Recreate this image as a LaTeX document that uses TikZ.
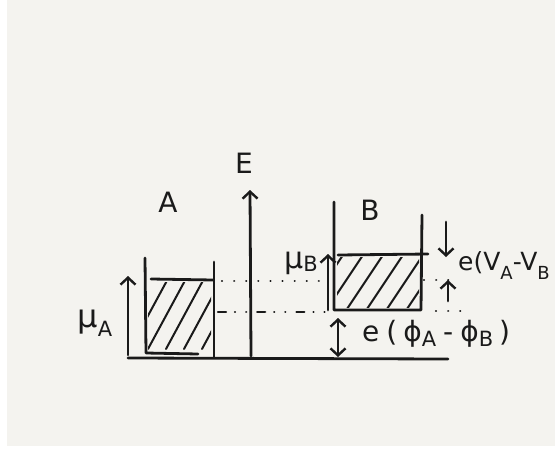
\documentclass[tikz,border=0pt]{standalone}
\usepackage{fontspec}
\setmainfont{DejaVu Sans}
\usetikzlibrary{arrows.meta}
\definecolor{paper}{HTML}{F4F3EF}
\definecolor{ink}{HTML}{1A1A1A}
\tikzset{
  stroke/.style={draw=ink, line width=2.8pt, line cap=round, line join=round},
  hatch/.style={draw=ink, line width=2pt, line cap=round},
  dots/.style={draw=ink, line width=2.2pt, line cap=round, dash pattern=on 0.1pt off 12pt},
  dashdots/.style={draw=ink, line width=2.2pt, line cap=round, dash pattern=on 8pt off 9pt on 0.1pt off 11pt on 0.1pt off 11pt},
  upar/.style={stroke, -{Straight Barb[length=7pt,width=15pt,line width=2.4pt]}},
  dblar/.style={stroke, {Straight Barb[length=7pt,width=15pt,line width=2.4pt]}-{Straight Barb[length=7pt,width=15pt,line width=2.4pt]}},
  lbl/.style={text=ink, inner sep=0pt, font=\fontsize{28}{32}\selectfont},
}
\newcommand{\subA}[2]{\raisebox{#1}{\fontsize{21}{24}\selectfont #2}}
\newcommand{\subS}[2]{\raisebox{#1}{\fontsize{18}{21}\selectfont #2}}
\begin{document}
\begin{tikzpicture}[x=1pt,y=-1pt]
\useasboundingbox (0,0) rectangle (555,448);
\fill[white] (0,0) rectangle (555,448);
\fill[paper] (7,0) rectangle (555,446);

% baseline
\coordinate (b0) at (128,358);
\coordinate (b1) at (448,359);
\draw[stroke] (b0) -- (b1);

% axis E
\coordinate (e0) at (251,356);
\coordinate (e1) at (250,190);
\draw[upar] (e0) -- (e1);
\node[lbl] (E) at (244,163) {E};

% box A
\coordinate (a1) at (145,258);
\coordinate (a2) at (146,353);
\coordinate (a3) at (198,354);
\coordinate (a4) at (214,262);
\coordinate (a5) at (214,357);
\draw[stroke] (a1) -- (a2) -- (a3);
\draw[stroke] (a4) -- (a5);
\draw[stroke] (151,279) -- (213,280);
\begin{scope}
\clip (148,282) rectangle (211,350);
\foreach \s in {0,18,36,54,72} {
  \draw[hatch] (150+\s-20,312+20*1.6+5) -- (150+\s+20,312-20*1.6-5);
}
\end{scope}
\node[lbl] (A) at (168,202) {A};

% mu_A arrow
\coordinate (ma0) at (128,355);
\coordinate (ma1) at (128,276);
\draw[upar] (ma0) -- (ma1);
\node[lbl, font=\fontsize{32}{36}\selectfont] (muA) at (95,323) {μ\subA{-9pt}{A}};

% box B
\coordinate (bl0) at (334,202);
\coordinate (bl1) at (334,310);
\coordinate (br0) at (422,215);
\coordinate (br1) at (421,310);
\draw[stroke] (bl0) -- (bl1) -- (br1) -- (br0);
\draw[stroke] (338,255) -- (428,254);
\begin{scope}
\clip (337,257) rectangle (419,307);
\foreach \s in {0,20,40,60,80,100} {
  \draw[hatch] (325+\s-20,282+20*1.3+4) -- (325+\s+20,282-20*1.3-4);
}
\end{scope}
\node[lbl] (B) at (370,210) {B};

% mu_B arrow
\coordinate (mb0) at (328,310);
\coordinate (mb1) at (328,254);
\draw[upar] (mb0) -- (mb1);
\node[lbl, font=\fontsize{30}{34}\selectfont] (muB) at (301,263) {μ\subA{-3pt}{B}};

% level lines
\draw[dots] (222,281) -- (324,281);
\draw[dots] (424,280) -- (460,280);
\draw[dashdots] (218,312) -- (330,312);
\draw[dots] (436,311) -- (470,311);

% e(V_A - V_B) arrows
\coordinate (v0) at (446,222);
\coordinate (v1) at (446,257);
\coordinate (w0) at (448,301);
\coordinate (w1) at (448,280);
\draw[upar] (v0) -- (v1);
\draw[upar] (w0) -- (w1);
\node[lbl, anchor=west, font=\fontsize{25}{29}\selectfont] (eV) at (458,266) {e(V\subS{-9pt}{A}-V\subS{-9pt}{B}};

% e(phi_A - phi_B)
\coordinate (p0) at (338,318);
\coordinate (p1) at (338,357);
\draw[dblar] (p0) -- (p1);
\node[lbl, anchor=west] (ePhi) at (362,334) {e\hspace{7pt}(\hspace{6pt}ϕ\subA{-5pt}{A}\hspace{7pt}-\hspace{7pt}ϕ\subA{-5pt}{B}\hspace{6pt})};

\end{tikzpicture}
\end{document}
